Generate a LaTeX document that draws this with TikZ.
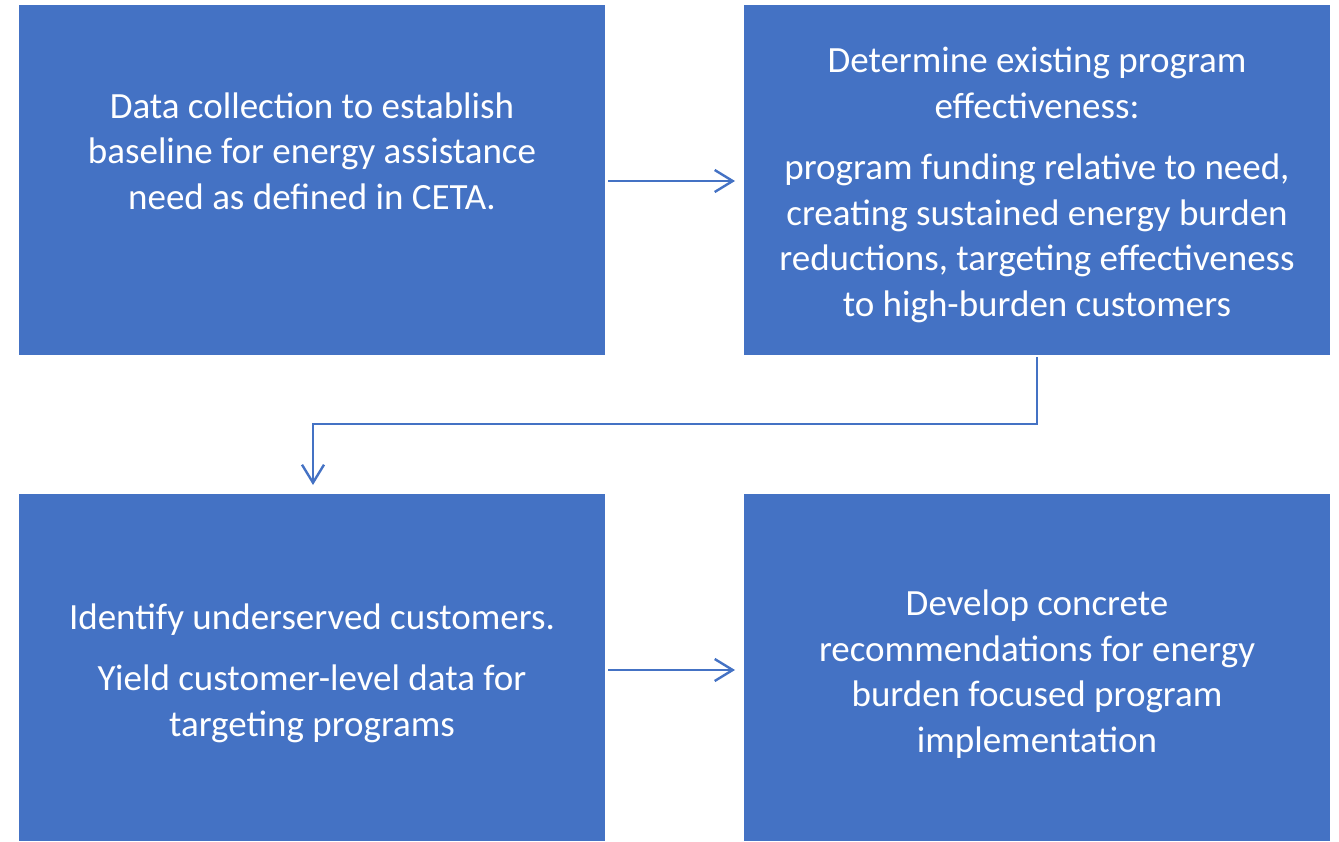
\documentclass[tikz,border=0pt]{standalone}
\usepackage{fontspec}
\setmainfont{Carlito}
\usetikzlibrary{arrows.meta}
\definecolor{boxblue}{HTML}{4472C4}
\begin{document}
\begin{tikzpicture}[x=1pt,y=-1pt,
  box/.style={fill=boxblue,draw=none,anchor=north west,minimum width=586pt,minimum height=350pt,inner sep=0pt},
  txt/.style={text=white,align=center,font=\fontsize{37}{45.5}\selectfont},
  conn/.style={draw=boxblue,line width=2.4pt,-{Straight Barb[length=18pt,width=22pt,line width=2.4pt]}}]
\useasboundingbox (0,0) rectangle (1339,842);
\node[box] (a) at (19,5) {};
\node[box] (b) at (744,5) {};
\node[box,minimum height=347pt] (c) at (19,494) {};
\node[box,minimum height=347pt] (d) at (744,494) {};
\node[txt] (ta) at (312,151) {Data collection to establish\\baseline for energy assistance\\need as defined in CETA.};
\node[txt] (tb) at (1037,185) {Determine existing program\\effectiveness:\\[16pt]program funding relative to need,\\creating sustained energy burden\\reductions, targeting effectiveness\\to high-burden customers};
\node[txt] (tc) at (312,673) {Identify underserved customers.\\[16pt]Yield customer-level data for\\targeting programs};
\node[txt] (td) at (1037,674) {Develop concrete\\recommendations for energy\\burden focused program\\implementation};
\coordinate (a1) at (608,181);
\coordinate (b1) at (735,181);
\coordinate (c1) at (608,670);
\coordinate (d1) at (735,670);
\coordinate (e1) at (1037,357);
\coordinate (e2) at (313,485);
\draw[conn] (a1) -- (b1);
\draw[conn] (c1) -- (d1);
\draw[conn] (e1) -- (1037,424) -- (313,424) -- (e2);
\end{tikzpicture}
\end{document}
